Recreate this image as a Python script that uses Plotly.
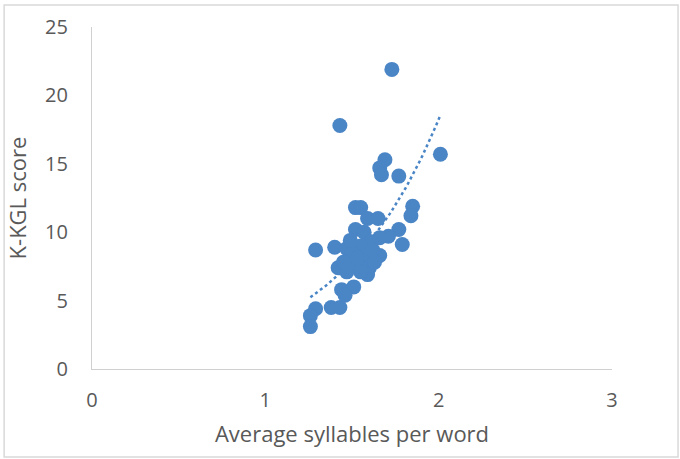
import numpy as np
import plotly.graph_objects as go

# Average syllables per word vs. K-KGL readability score
syllables = [1.73, 1.43, 2.01, 1.69, 1.66, 1.67, 1.77, 1.52, 1.55, 1.85,
             1.84, 1.59, 1.65, 1.52, 1.57, 1.77, 1.71, 1.66, 1.29, 1.40,
             1.47, 1.79, 1.61, 1.55, 1.50, 1.58, 1.66, 1.62, 1.42, 1.47,
             1.53, 1.60, 1.59, 1.55, 1.44, 1.51, 1.46, 1.38, 1.43, 1.29,
             1.26, 1.26, 1.49, 1.53, 1.45, 1.63]
kkgl = [21.9, 17.8, 15.7, 15.3, 14.7, 14.2, 14.1, 11.8, 11.8, 11.9,
        11.2, 11.0, 11.0, 10.2, 10.0, 10.2, 9.7, 9.6, 8.7, 8.9,
        8.8, 9.1, 9.3, 9.0, 8.5, 8.3, 8.3, 8.7, 7.4, 7.1,
        7.7, 7.4, 6.9, 7.1, 5.8, 6.0, 5.4, 4.5, 4.5, 4.4,
        3.9, 3.1, 9.4, 8.1, 7.8, 7.8]

x_ticks = [0, 1, 2, 3]
y_ticks = [0, 5, 10, 15, 20, 25]

blue = "#4a85c6"
grey_text = "#595959"
font_family = "Open Sans"

# Exponential trendline y = a * exp(b x), fitted in log space
xs = np.array(syllables)
ys = np.array(kkgl)
b, ln_a = np.polyfit(xs, np.log(ys), 1)
trend_x = np.linspace(xs.min(), xs.max(), 60)
trend_y = np.exp(ln_a) * np.exp(b * trend_x)

fig = go.Figure()
fig.add_trace(go.Scatter(
    x=trend_x, y=trend_y, mode="lines",
    line=dict(color=blue, width=2.5, dash="dot"),
    hoverinfo="skip", showlegend=False,
))
fig.add_trace(go.Scatter(
    x=syllables, y=kkgl, mode="markers",
    marker=dict(color=blue, size=15, line=dict(width=0)),
    showlegend=False,
))

fig.update_layout(
    width=680, height=459,
    margin=dict(l=92, r=68, t=27, b=90),
    paper_bgcolor="white", plot_bgcolor="white",
    font=dict(family=font_family, color=grey_text, size=20),
    xaxis=dict(
        range=[0, 3], tickvals=x_ticks, showgrid=False, zeroline=False,
        showline=True, linecolor="#d0d0d0", linewidth=1.3,
        ticks="", ticklabelstandoff=13,
        tickfont=dict(size=20, color=grey_text),
        title=dict(text="Average syllables per word", standoff=14,
                   font=dict(size=22, color=grey_text)),
    ),
    yaxis=dict(
        range=[0, 25], tickvals=y_ticks, showgrid=False, zeroline=False,
        showline=True, linecolor="#d0d0d0", linewidth=1.3,
        ticks="", ticklabelstandoff=19,
        tickfont=dict(size=20, color=grey_text),
        title=dict(text="K-KGL score", standoff=12,
                   font=dict(size=22, color=grey_text)),
    ),
    shapes=[dict(
        type="rect", xref="paper", yref="paper",
        x0=-0.169, x1=1.127, y0=-0.257, y1=1.064,
        line=dict(color="#d9d9d9", width=1.5), layer="below",
    )],
)

fig.write_html("out.html")
